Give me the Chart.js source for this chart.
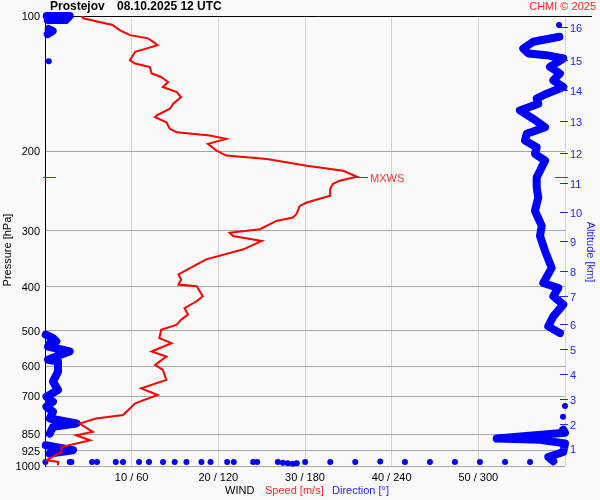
<!DOCTYPE html>
<html>
<head>
<meta charset="utf-8">
<script src="https://cdn.jsdelivr.net/npm/chart.js@4"></script>
<style>
html, body { margin: 0; padding: 0; background: #fafafa; }
</style>
</head>
<body>
<canvas id="chart" width="600" height="500"></canvas>
<script>
// pressure levels [hPa] with horizontal grid lines
const pressureTicks = [100, 200, 300, 400, 500, 600, 700, 850, 925, 1000];
// bottom axis: speed [m/s] / direction [deg]
const speedTicks = [10, 20, 30, 40, 50, 60];
const bottomLabels = ['10 / 60', '20 / 120', '30 / 180', '40 / 240', '50 / 300'];
// altitude scale on the right (km and the pressure where it sits)
const altitudeKm = [1, 2, 3, 4, 5, 6, 7, 8, 9, 10, 11, 12, 13, 14, 15, 16];
const altitudeP = [910, 807, 710, 624, 549, 483, 420, 368, 317, 273, 235, 201.5, 171, 146, 125, 106];

// wind speed profile
const speedP = [100, 101.2, 104.7, 107.5, 110.3, 112.1, 116.1, 120.1, 125.4, 127.5,
  129.8, 134.2, 136.6, 140.2, 143.8, 147.6, 151.4, 156.6, 160.7, 166.3,
  167.8, 172.2, 178.1, 181.2, 184.4, 187.5, 192.4, 199.2, 204.3, 207.8,
  215.1, 220.7, 227.6, 232.3, 236.3, 242.4, 250.9, 259.7, 264.2, 275.7,
  280.5, 285.4, 297.8, 303.0, 308.3, 316.2, 330.0, 347.4, 353.4, 375.3,
  385.0, 395.1, 398.5, 419.6, 430.5, 445.6, 460.9, 472.9, 485.3, 498.0,
  519.9, 533.4, 556.6, 571.1, 596.0, 611.5, 643.9, 672.3, 695.4, 725.9,
  744.8, 770.6, 784.2, 804.6, 839.7, 854.1, 876.3, 907.0, 930.6, 971.0,
  979.5, 996.3];
const speedV = [4.2, 4.4, 7.8, 8.6, 9.8, 11.9, 13.0, 10.4, 9.8, 10.4,
  12.1, 12.3, 13.4, 14.2, 13.6, 15.2, 15.7, 14.8, 14.4, 12.9,
  12.7, 14.0, 14.4, 15.2, 19.0, 20.9, 18.8, 19.8, 20.9, 25.6,
  30.2, 34.4, 36.0, 34.0, 33.2, 32.9, 32.9, 30.2, 29.4, 29.0,
  28.6, 26.7, 24.8, 21.3, 21.7, 25.0, 22.9, 18.6, 17.9, 15.4,
  15.7, 15.4, 17.5, 18.2, 17.5, 16.1, 16.5, 15.7, 15.2, 13.4,
  13.2, 14.6, 12.3, 14.0, 12.7, 13.6, 14.0, 11.1, 13.0, 10.4,
  9.8, 9.0, 5.9, 4.0, 5.5, 3.6, 5.2, 1.9, 1.9, 0.2,
  1.5, 1.5];

// wind direction profile (null = break where it wraps 360/0)
const dirP = [100, 100, 102.1, 102.1, null,
  106.9, 108.0, 109.7, null,
  111.2, 114.1, 118.1, 121.1, 122.2, 124.3, 129.8, 134.2, 139.0, 143.8,
  148.8, 152.6, 156.6, 162.1, 169.2, 176.6, 182.7, 189.1, 195.8, 202.5,
  209.6, 228.4, 240.4, 253.1, 271.0, 292.8, 308.3, 333.0, 362.8, 391.9,
  402.1, 419.6, 437.8, 465.0, 489.5, 506.7, null,
  510.8, 519.9, 528.8, 533.4, 542.6, 556.6, 561.5, 580.8, 585.9, 616.9,
  649.5, 677.6, 701.3, 719.6, 738.5, 757.7, 784.2, 804.6, 818.5, 847.3, null,
  899.0, 922.4, 938.8, null,
  831.0, 843.9, 869.0, 874.8, 890.6, 930.6, 955.0, 976.1];
const dirD = [1.2, 17.1, 14.3, 1.9, null,
  2.6, 5.3, 1.9, null,
  356.1, 338.0, 331.1, 334.6, 347.3, 358.8, 349.6, 356.5, 351.9, 358.8,
  347.3, 340.4, 341.5, 328.8, 338.0, 346.2, 333.5, 332.3, 340.4, 339.2,
  346.2, 340.4, 340.4, 341.5, 339.2, 343.9, 342.7, 346.2, 350.8, 345.0,
  355.4, 351.9, 358.8, 351.9, 348.4, 356.5, null,
  0.5, 5.5, 7.9, 3.3, 2.1, 17.1, 13.6, 2.1, 9.0, 9.0,
  5.5, 9.0, 1.0, 5.5, 1.0, 5.5, 3.3, 21.8, 5.5, 3.3, null,
  0.5, 19.4, 3.3, null,
  358.8, 360, 312.7, 342.7, 360, 358.8, 348.4, 351.9];
// single direction readings
const dirDotP = [126.0, 104.7, 736, 777,
  979.5, 979.5, 979.5, 979.5, 979.5, 979.5, 979.5, 979.5, 979.5, 979.5,
  979.5, 979.5, 979.5, 979.5, 979.5, 979.5, 979.5, 979.5,
  980, 984, 986, 988, 986,
  979.5, 979.5, 979.5, 977, 979.5, 979.5, 979.5, 979.5, 979.5, 979.5];
const dirDotD = [2.6, 355.9, 360, 358.6,
  0.3, 17.1, 18.3, 32.6, 36.0, 49.0, 54.0, 65.1, 72.0, 81.7,
  89.8, 97.9, 108.3, 114.6, 126.1, 130.7, 144.1, 146.9,
  161.2, 164.7, 168.1, 171.5, 174.3,
  180.1, 197.5, 214.8, 232.1, 249.2, 266.5, 283.8, 301.1, 318.5, 335.8];

const RED = '#ff0000';
const BLUE = '#0000ff';
const FONT = '"Liberation Sans", Arial, sans-serif';

function pairs(xs, ys) {
  return xs.map((x, i) => ({x: x, y: ys[i]}));
}

const maxIdx = speedV.indexOf(Math.max(...speedV));

const decor = {
  id: 'decor',
  beforeDraw(chart) {
    const ctx = chart.ctx;
    ctx.save();
    ctx.fillStyle = '#fafafa';
    ctx.fillRect(0, 0, chart.width, chart.height);
    ctx.restore();
  },
  beforeDatasetsDraw(chart) {
    const ctx = chart.ctx;
    const a = chart.chartArea;
    ctx.save();
    ctx.strokeStyle = '#000';
    ctx.lineWidth = 1;
    ctx.beginPath();
    ctx.moveTo(a.left, a.top + 0.5);
    ctx.lineTo(592, a.top + 0.5);
    ctx.stroke();
    ctx.restore();
  },
  afterDraw(chart) {
    const ctx = chart.ctx;
    const a = chart.chartArea;
    const ys = chart.scales.y;
    const xs = chart.scales.x;
    ctx.save();
    ctx.textBaseline = 'middle';

    // title
    ctx.fillStyle = '#000';
    ctx.font = 'bold 12px ' + FONT;
    ctx.textAlign = 'left';
    ctx.fillText('Prostejov', 50, 7);
    ctx.fillText('08.10.2025 12 UTC', 117, 7);
    ctx.font = '11px ' + FONT;
    ctx.fillStyle = '#ff2020';
    ctx.textAlign = 'right';
    ctx.fillText('CHMI \u00a9 2025', 596, 7);

    // pressure labels
    ctx.fillStyle = '#000';
    ctx.font = '11px ' + FONT;
    ctx.textAlign = 'right';
    pressureTicks.forEach(p => ctx.fillText(String(p), 40, ys.getPixelForValue(p) + 1));

    // bottom labels
    ctx.textAlign = 'center';
    bottomLabels.forEach((t, i) => ctx.fillText(t, xs.getPixelForValue(speedTicks[i]), 478));
    ctx.textAlign = 'left';
    ctx.fillText('WIND', 225, 491);
    ctx.fillStyle = '#ff2020';
    ctx.fillText('Speed [m/s]', 265, 491);
    ctx.fillStyle = '#2222ff';
    ctx.fillText('Direction [\u00b0]', 332, 491);

    // axis titles
    ctx.save();
    ctx.fillStyle = '#000';
    ctx.translate(8, 250);
    ctx.rotate(-Math.PI / 2);
    ctx.textAlign = 'center';
    ctx.fillText('Pressure [hPa]', 0, 0);
    ctx.restore();
    ctx.save();
    ctx.fillStyle = '#2222ff';
    ctx.translate(590, 252);
    ctx.rotate(Math.PI / 2);
    ctx.textAlign = 'center';
    ctx.fillText('Altitude [km]', 0, 0);
    ctx.restore();

    // altitude ticks
    ctx.strokeStyle = '#2222ff';
    ctx.fillStyle = '#2222ff';
    ctx.lineWidth = 1;
    ctx.textAlign = 'left';
    altitudeKm.forEach((km, i) => {
      const y = Math.round(ys.getPixelForValue(altitudeP[i])) + 0.5;
      ctx.beginPath();
      ctx.moveTo(a.right - 5, y);
      ctx.lineTo(a.right + 3, y);
      ctx.stroke();
      ctx.fillText(String(km), a.right + 5, y + 1);
    });

    // max wind marker
    const my = Math.round(ys.getPixelForValue(speedP[maxIdx])) + 0.5;
    const mx = xs.getPixelForValue(speedV[maxIdx]);
    ctx.strokeStyle = RED;
    ctx.beginPath();
    ctx.moveTo(a.left - 2, my); ctx.lineTo(a.left + 11, my);
    ctx.moveTo(a.right - 10, my); ctx.lineTo(a.right + 3, my);
    ctx.moveTo(mx, my); ctx.lineTo(mx + 11, my);
    ctx.stroke();
    ctx.fillStyle = '#ff3030';
    ctx.fillText('MXWS', mx + 13, my + 1);
    ctx.restore();
  }
};

new Chart(document.getElementById('chart'), {
  type: 'scatter',
  data: {
    datasets: [
      {
        label: 'Speed',
        data: pairs(speedV, speedP),
        xAxisID: 'x',
        showLine: true,
        borderColor: RED,
        borderWidth: 2,
        pointRadius: 0,
        tension: 0
      },
      {
        label: 'Direction',
        data: pairs(dirD, dirP),
        xAxisID: 'xd',
        showLine: true,
        spanGaps: false,
        borderColor: BLUE,
        borderWidth: 8,
        borderJoinStyle: 'round',
        borderCapStyle: 'round',
        pointRadius: 0,
        clip: false
      },
      {
        label: 'Direction dots',
        data: pairs(dirDotD, dirDotP),
        xAxisID: 'xd',
        showLine: false,
        pointRadius: 3,
        pointBorderWidth: 0,
        pointBackgroundColor: BLUE,
        clip: false
      }
    ]
  },
  options: {
    responsive: false,
    animation: false,
    events: [],
    layout: {padding: {left: 45, right: 35, top: 16, bottom: 34}},
    plugins: {legend: {display: false}, tooltip: {enabled: false}},
    scales: {
      x: {
        type: 'linear',
        min: 0,
        max: 60,
        afterBuildTicks: s => { s.ticks = speedTicks.map(v => ({value: v})); },
        ticks: {display: false},
        grid: {color: '#d4d4d4', drawTicks: false},
        border: {display: false}
      },
      xd: {
        type: 'linear',
        display: false,
        min: 0,
        max: 360
      },
      y: {
        type: 'logarithmic',
        min: 100,
        max: 1000,
        reverse: true,
        afterBuildTicks: s => { s.ticks = pressureTicks.map(v => ({value: v})); },
        ticks: {display: false},
        grid: {color: '#a8a8a8', drawTicks: false},
        border: {display: true, color: '#000', width: 1}
      }
    }
  },
  plugins: [decor]
});
</script>
</body>
</html>
